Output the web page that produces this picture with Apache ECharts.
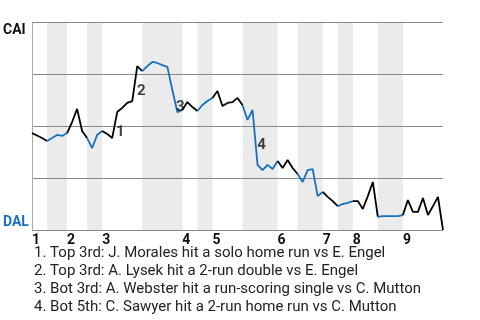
<!DOCTYPE html>
<html><head><meta charset="utf-8">
<script src="https://cdn.jsdelivr.net/npm/echarts@6/dist/echarts.min.js"></script>
<style>html,body{margin:0;padding:0;background:#fff}#c{width:480px;height:320px}</style>
</head><body><div id="c"></div>
<script>
// Inning labels
const innings = ['1','2','3','4','5','6','7','8','9'];
// Plate appearances per half-inning (top 1, bot 1, top 2, ...)
const halfInningPAs = [3,4,4,3,8,8,3,3,6,7,4,5,3,3,5,5,8];
// CAI win probability (%) after each plate appearance
const caiWinPct = [
  46.6,45.4,44.2,42.8,
  44.2,45.7,45.2,46.6,
  51.9,58.2,47.6,44.2,
  39.4,45.7,47.6,
  46.2,44.2,56.7,58.7,61.1,62.0,78.8,76.4,
  78.8,80.8,80.3,79.3,78.4,67.3,56.7,57.7,
  61.5,59.1,57.2,
  60.1,62.0,63.5,
  66.8,59.6,61.1,61.5,63.5,60.1,
  52.9,57.7,31.3,28.8,31.3,29.3,33.2,
  29.8,33.7,29.8,26.9,
  23.1,28.8,29.3,16.3,18.3,
  15.9,13.9,11.5,
  12.5,13.0,13.9,
  13.9,10.1,16.3,23.1,6.3,
  6.7,6.7,6.7,6.7,7.2,
  14.4,8.7,8.7,15.4,7.2,11.5,15.9,0
];
// Key events
const events = [
  'Top 3rd: J. Morales hit a solo home run vs E. Engel',
  'Top 3rd: A. Lysek hit a 2-run double vs E. Engel',
  'Bot 3rd: A. Webster hit a run-scoring single vs C. Mutton',
  'Bot 5th: C. Sawyer hit a 2-run home run vs C. Mutton'
];
// Where each event number is written: [plate appearance, CAI win %]
const eventMarks = [[17.6,47.1],[21.8,66.8],[29.6,59.1],[45.8,40.9]];

const bounds = [0];
halfInningPAs.forEach(n => bounds.push(bounds[bounds.length-1] + n));
const inningStarts = innings.map((_, i) => bounds[2*i]);
const bands = [];
for (let k = 1; k < halfInningPAs.length; k += 2) bands.push([bounds[k], bounds[k+1]]);

const BLUE = '#1570bd';
const series = [];
series.push({
  type: 'line', data: [], z: 1, silent: true,
  markArea: { silent: true, z: 1, itemStyle: { color: '#ebebeb' },
    data: bands.map(b => [{ xAxis: b[0] }, { xAxis: b[1] }]) }
});
for (let h = 0; h < halfInningPAs.length; h++) {
  const d = [];
  for (let i = bounds[h]; i <= bounds[h+1]; i++) d.push([i, caiWinPct[i]]);
  series.push({
    type: 'line', data: d, showSymbol: false, z: 4, silent: true,
    lineStyle: { width: 1.8, color: h % 2 === 0 ? '#000' : BLUE }
  });
}
series.push({
  type: 'scatter', data: eventMarks, symbolSize: 0, z: 5, silent: true,
  label: { show: true, position: 'inside', formatter: p => String(p.dataIndex + 1),
    fontWeight: 'bold', fontSize: 15, color: '#111', fontFamily: 'Roboto' }
});

const chart = echarts.init(document.getElementById('c'), null, { renderer: 'canvas' });
chart.setOption({
  animation: false,
  textStyle: { fontFamily: 'Roboto' },
  grid: { left: 32, right: 37, top: 22, bottom: 90 },
  title: {
    text: events.map((e, i) => (i + 1) + '. ' + e).join('\n'),
    left: 34, top: 244, padding: 0,
    textStyle: { fontSize: 15, fontWeight: 'normal', lineHeight: 18, color: '#222', fontFamily: 'Roboto' }
  },
  xAxis: {
    type: 'value', min: 0, max: bounds[bounds.length-1], z: 3,
    splitLine: { show: false }, axisTick: { show: false }, axisLine: { show: false },
    axisLabel: {
      customValues: inningStarts,
      formatter: v => innings[inningStarts.indexOf(v)],
      align: 'left', margin: 3, fontWeight: 'bold', fontSize: 14, color: '#111'
    }
  },
  yAxis: {
    type: 'value', min: 0, max: 100, interval: 25, z: 3,
    splitLine: { show: true, lineStyle: { color: '#888', width: 1 } },
    axisLine: { show: true, lineStyle: { color: '#aaa' } },
    axisTick: { show: false },
    axisLabel: {
      align: 'left', margin: 29,
      formatter: v => v === 100 ? '{cai|CAI}' : (v === 0 ? '{dal|DAL}' : ''),
      rich: {
        cai: { fontWeight: 'bold', fontSize: 14, color: '#111', padding: [16,0,0,0] },
        dal: { fontWeight: 'bold', fontSize: 14, color: BLUE, padding: [0,0,16,0] }
      }
    }
  },
  series: series
});
</script></body></html>
